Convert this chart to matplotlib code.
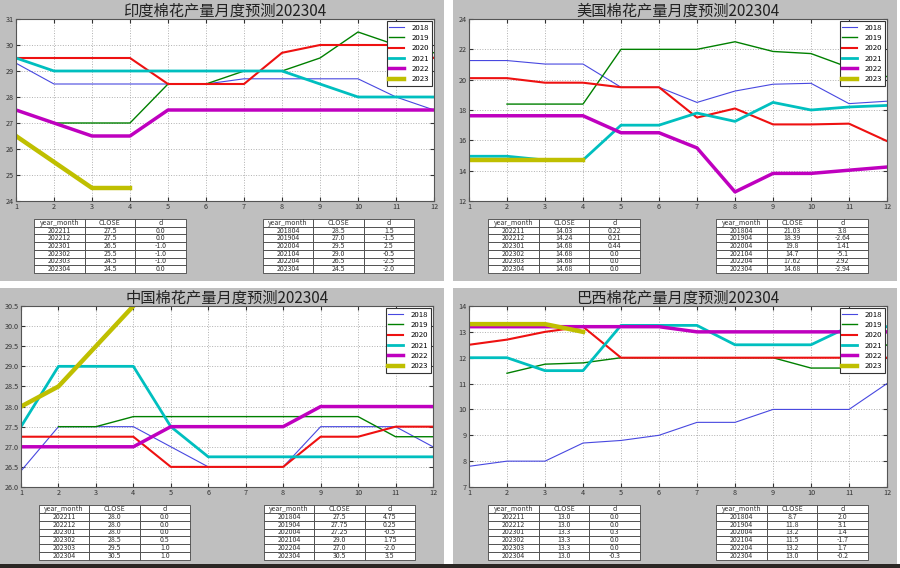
import numpy as np
import matplotlib
matplotlib.use("Agg")
import matplotlib.pyplot as plt
from matplotlib.patches import Rectangle

plt.rcParams['font.family'] = ['Noto Sans CJK SC', 'DejaVu Sans']

# ─── dados ────────────────────────────────────────────────────────────────
months = list(range(1, 13))
years = ["2018", "2019", "2020", "2021", "2022", "2023"]

india = {
    "2018": [29.3, 28.5, 28.5, 28.5, 28.5, 28.5, 28.7, 28.7, 28.7, 28.7, 28.0, 27.5],
    "2019": [None, 27.0, 27.0, 27.0, 28.5, 28.5, 29.0, 29.0, 29.5, 30.5, 30.0, 29.7],
    "2020": [29.5, 29.5, 29.5, 29.5, 28.5, 28.5, 28.5, 29.7, 30.0, 30.0, 30.0, 29.5],
    "2021": [29.5, 29.0, 29.0, 29.0, 29.0, 29.0, 29.0, 29.0, 28.5, 28.0, 28.0, 28.0],
    "2022": [27.5, 27.0, 26.5, 26.5, 27.5, 27.5, 27.5, 27.5, 27.5, 27.5, 27.5, 27.5],
    "2023": [26.5, 25.5, 24.5, 24.5],
}
usa = {
    "2018": [21.26, 21.26, 21.03, 21.03, 19.5, 19.5, 18.5, 19.25, 19.7, 19.76, 18.42, 18.58],
    "2019": [None, 18.39, 18.39, 18.39, 22.0, 22.0, 22.0, 22.5, 21.86, 21.72, 20.8, 20.2],
    "2020": [20.1, 20.1, 19.8, 19.8, 19.5, 19.5, 17.5, 18.1, 17.05, 17.05, 17.1, 15.95],
    "2021": [14.95, 14.95, 14.7, 14.7, 17.0, 17.0, 17.8, 17.25, 18.5, 18.0, 18.2, 18.3],
    "2022": [17.62, 17.62, 17.62, 17.62, 16.5, 16.5, 15.5, 12.6, 13.82, 13.82, 14.03, 14.24],
    "2023": [14.68, 14.68, 14.68, 14.68],
}
china = {
    "2018": [26.4, 27.5, 27.5, 27.5, 27.0, 26.5, 26.5, 26.5, 27.5, 27.5, 27.5, 27.0],
    "2019": [None, 27.5, 27.5, 27.75, 27.75, 27.75, 27.75, 27.75, 27.75, 27.75, 27.25, 27.25],
    "2020": [27.25, 27.25, 27.25, 27.25, 26.5, 26.5, 26.5, 26.5, 27.25, 27.25, 27.5, 27.5],
    "2021": [27.5, 29.0, 29.0, 29.0, 27.5, 26.75, 26.75, 26.75, 26.75, 26.75, 26.75, 26.75],
    "2022": [27.0, 27.0, 27.0, 27.0, 27.5, 27.5, 27.5, 27.5, 28.0, 28.0, 28.0, 28.0],
    "2023": [28.0, 28.5, 29.5, 30.5],
}
brazil = {
    "2018": [7.8, 8.0, 8.0, 8.7, 8.8, 9.0, 9.5, 9.5, 10.0, 10.0, 10.0, 11.0],
    "2019": [None, 11.4, 11.75, 11.8, 12.0, 12.0, 12.0, 12.0, 12.0, 11.6, 11.6, 12.5],
    "2020": [12.5, 12.7, 13.0, 13.2, 12.0, 12.0, 12.0, 12.0, 12.0, 12.0, 12.0, 12.0],
    "2021": [12.0, 12.0, 11.5, 11.5, 13.25, 13.25, 13.25, 12.5, 12.5, 12.5, 13.2, 13.2],
    "2022": [13.2, 13.2, 13.2, 13.2, 13.2, 13.2, 13.0, 13.0, 13.0, 13.0, 13.0, 13.0],
    "2023": [13.3, 13.3, 13.3, 13.0],
}

recent_months = ["202211", "202212", "202301", "202302", "202303", "202304"]
april_months = ["201804", "201904", "202004", "202104", "202204", "202304"]

india_recent = [["27.5", "0.0"], ["27.5", "0.0"], ["26.5", "-1.0"],
                ["25.5", "-1.0"], ["24.5", "-1.0"], ["24.5", "0.0"]]
india_april = [["28.5", "1.5"], ["27.0", "-1.5"], ["29.5", "2.5"],
               ["29.0", "-0.5"], ["26.5", "-2.5"], ["24.5", "-2.0"]]
usa_recent = [["14.03", "0.22"], ["14.24", "0.21"], ["14.68", "0.44"],
              ["14.68", "0.0"], ["14.68", "0.0"], ["14.68", "0.0"]]
usa_april = [["21.03", "3.8"], ["18.39", "-2.64"], ["19.8", "1.41"],
             ["14.7", "-5.1"], ["17.62", "2.92"], ["14.68", "-2.94"]]
china_recent = [["28.0", "0.0"], ["28.0", "0.0"], ["28.0", "0.0"],
                ["28.5", "0.5"], ["29.5", "1.0"], ["30.5", "1.0"]]
china_april = [["27.5", "4.75"], ["27.75", "0.25"], ["27.25", "-0.5"],
               ["29.0", "1.75"], ["27.0", "-2.0"], ["30.5", "3.5"]]
brazil_recent = [["13.0", "0.0"], ["13.0", "0.0"], ["13.3", "0.3"],
                 ["13.3", "0.0"], ["13.3", "0.0"], ["13.0", "-0.3"]]
brazil_april = [["8.7", "2.0"], ["11.8", "3.1"], ["13.2", "1.4"],
                ["11.5", "-1.7"], ["13.2", "1.7"], ["13.0", "-0.2"]]

# ─── estilo ───────────────────────────────────────────────────────────────
STYLE = {
    "2018": ("#4848e0", 0.8),
    "2019": ("#008000", 1.0),
    "2020": ("#ee1111", 1.5),
    "2021": ("#00bfbf", 2.0),
    "2022": ("#bf00bf", 2.5),
    "2023": ("#bfbf00", 3.2),
}

W, H = 900, 568
fig = plt.figure(figsize=(W / 100, H / 100), dpi=100)
fig.patch.set_facecolor("white")


def px_rect(x0, y0, x1, y1):
    return [x0 / W, (H - y1) / H, (x1 - x0) / W, (y1 - y0) / H]


def panel_bg(x0, y0, x1, y1, color="#bfbfbf"):
    fig.patches.append(Rectangle((x0 / W, (H - y1) / H), (x1 - x0) / W,
                                 (y1 - y0) / H, transform=fig.transFigure,
                                 facecolor=color, edgecolor="none", zorder=-5))


def draw_chart(rect, title, data, ylim, yticks, yfmt):
    ax = fig.add_axes(px_rect(*rect))
    for y in years:
        vals = data[y]
        xs = [m for m, v in zip(months, vals) if v is not None]
        vs = [v for v in vals if v is not None]
        c, lw = STYLE[y]
        ax.plot(xs, vs, color=c, lw=lw, label=y)
    ax.set_xlim(1, 12)
    ax.set_ylim(*ylim)
    ax.set_xticks(months)
    ax.set_yticks(yticks)
    ax.set_yticklabels([yfmt.format(t) for t in yticks])
    ax.grid(True, color="#b0b0b0", linestyle=":", linewidth=0.7)
    ax.tick_params(labelsize=5.2, direction="in", length=3, pad=1.5,
                   top=True, right=True, colors="#333333")
    for s in ax.spines.values():
        s.set_color("#555555")
        s.set_linewidth(0.8)
    ax.set_title(title, fontsize=11, pad=2.5, color="#222222")
    leg = ax.legend(loc="upper right", fontsize=5.6, fancybox=False,
                    handlelength=1.9, handletextpad=1.0, borderpad=0.35,
                    labelspacing=0.3, framealpha=1, borderaxespad=0.25)
    leg.get_frame().set_edgecolor("#333333")
    leg.get_frame().set_linewidth(0.8)
    return ax


def draw_table(rect, keys, rows):
    ax = fig.add_axes(px_rect(*rect))
    ax.axis("off")
    cells = [[k] + r for k, r in zip(keys, rows)]
    tb = ax.table(cellText=cells, colLabels=["year_month", "CLOSE", "d"],
                  cellLoc="center", bbox=[0, 0, 1, 1])
    tb.auto_set_font_size(False)
    tb.set_fontsize(5)
    for cell in tb.get_celld().values():
        cell.set_edgecolor("#444444")
        cell.set_linewidth(0.6)
        cell.set_facecolor("white")
        cell.get_text().set_color("#333333")


panel_bg(0, 0, 444, 281)
panel_bg(453, 0, 897, 281)
panel_bg(0, 288, 444, 564)
panel_bg(453, 288, 897, 564)
panel_bg(0, 564, 900, 568, color="#2b2724")

draw_chart((16, 19, 434, 201), "印度棉花产量月度预测202304", india,
           (24, 31), np.arange(24, 32, 1), "{:.0f}")
draw_chart((469, 19, 887, 201), "美国棉花产量月度预测202304", usa,
           (12, 24), np.arange(12, 25, 2), "{:.0f}")
draw_chart((21, 306, 433, 487), "中国棉花产量月度预测202304", china,
           (26, 30.5), np.arange(26, 30.51, 0.5), "{:.1f}")
draw_chart((469, 306, 887, 487), "巴西棉花产量月度预测202304", brazil,
           (7, 14), np.arange(7, 15, 1), "{:.0f}")

draw_table((34, 219, 186, 273), recent_months, india_recent)
draw_table((263, 219, 414, 273), april_months, india_april)
draw_table((488, 219, 640, 273), recent_months, usa_recent)
draw_table((716, 219, 868, 273), april_months, usa_april)
draw_table((39, 505, 190, 560), recent_months, china_recent)
draw_table((264, 505, 415, 560), april_months, china_april)
draw_table((488, 505, 640, 560), recent_months, brazil_recent)
draw_table((716, 505, 868, 560), april_months, brazil_april)

fig.savefig("out.png", dpi=100, facecolor="white")
plt.close(fig)
